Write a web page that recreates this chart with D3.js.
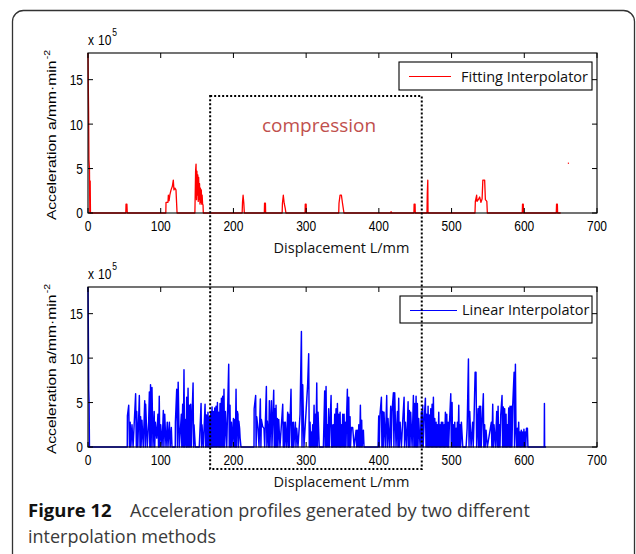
<!DOCTYPE html>
<html lang="en">
<head>
  <meta charset="utf-8">
  <title>Figure 12</title>
  <style>
    body { margin: 0; background: #fff; }
    svg { display: block; }
  </style>
</head>
<body>

  <div id="chart"></div>

<script src="https://cdn.jsdelivr.net/npm/d3@7"></script>
<script>

  ////////////////////////////////////////////////// DATA

  var xTicks = [0, 100, 200, 300, 400, 500, 600, 700];
  var yTicks = [0, 5, 10, 15];
  var xDomain = [0, 700];
  var yDomain = [0, 18];

  // fitting interpolator, [displacement mm, acceleration x1e5]
  var fittingPoints = [
    [0,18],[0.3,15],[0.8,11.5],[1.3,6],[2,5],[2.5,0],[3,3.6],[3.4,0],
    [52,0],[52.3,1.0],[53.5,1.0],[54,0],
    [107,0],[107.3,1.2],[110,1.2],[110.5,2.0],[111.5,1.4],[112.5,2.0],[114.2,2.6],[116,3.0],[117.3,3.7],[118.2,2.6],[119.5,2.8],[121,2.6],[122.5,0],
    [147,0],[148,4.8],[148.6,5.5],[149.2,1.5],[149.8,4.7],[150.4,2.0],[151,4.3],[151.6,1.3],[152.2,4.0],[152.8,1.5],[153.4,3.3],[154,1.0],[154.6,2.8],[155.2,1.2],[155.8,2.6],[156.4,1.0],[157,2.0],[157.6,1.0],[158.2,0.9],[158.6,0],
    [212,0],[212.5,1.2],[213.3,2.0],[214.3,1.1],[215,0],
    [242.5,0],[242.8,1.1],[244,1.1],[244.3,0],
    [267,0],[267.4,1.1],[268.6,2.0],[269.8,1.1],[271.3,0.5],[272.2,0],
    [298.5,0],[298.8,1.0],[300,1.0],[300.3,0],
    [344.8,0],[345.2,1.1],[346.6,2.0],[348.5,2.0],[350,1.1],[352,0],
    [416.3,0],[416.8,0.15],[417.3,0],
    [448.2,0],[448.5,1.0],[449.8,1.0],[450.1,0],
    [466.2,0],[466.6,2.2],[467.3,3.7],[467.6,0],
    [532.2,0],[532.7,1.3],[534.5,2.0],[535,1.3],[536.8,1.5],[538.6,1.8],[540.4,1.2],[542,1.6],[543,3.7],[545.5,3.7],[546.5,1.5],[548.5,1.3],[549.2,0],
    [597.2,0],[597.6,1.0],[598.6,1.0],[599,0],
    [644,0],[644.4,1.0],[645.5,1.0],[645.8,0],[650,0]
  ];
  var fittingStray = [[660.7, 5.6]];

  // linear interpolator, [displacement mm, acceleration x1e5]
  var linearPoints = [
    [0,18],[0.3,15],[1,6.4],[1.5,5],[2,0],[54,0],
    [54.2,3.5],[56,4.7],[57,0],[58,2.8],[59,0],[60.5,2.5],[62,0],
    [65.5,6.0],[66.5,0],[67,4.0],[68.5,0],[70.6,5.8],[71.5,0],[72.4,3.4],[73,0],[74.2,3.0],[76,0],
    [78,5.2],[78.8,0],[79.3,4.8],[81.5,0],[83.4,2.8],[84.4,6.2],[85,0],[86,7.0],[86.8,0],[88,6.7],[89.4,0],
    [91,4.0],[91.8,0],[92.6,2.8],[94.5,1.0],[96.2,3.7],[97,0],[98,5.7],[98.8,0],[100,2.5],[101.8,0],
    [103.6,4.1],[104.4,0],[105.5,3.7],[107.3,0],[109,2.8],[110,0],[111.9,2.8],[113,0],[114.6,2.2],[115.5,0],
    [120,0],[120.2,2.8],[122,6.5],[123,0],[124,7.3],[125.6,0],[128.4,3.7],[129,0],[130.2,4.8],[131,0],[132,8.7],[132.8,0],[134,3.1],[135,0],[135.7,5.6],[136.5,0],[137.6,6.6],[138.5,0],[139.4,4.7],[140.2,0],[141.2,4.8],[142,0],[143,3.2],[144.5,7.2],[145.2,0],[145.8,2.5],[147.6,0],
    [153,0],[155.5,4.9],[156.2,0],[156.8,2.5],[158.6,0],[161,4.8],[161.8,0],[163,3.6],[163.8,0],[165,3.9],[165.8,0],[167,3.4],[167.8,0],[168.8,4.0],[169.6,0],[170.6,4.5],[171.4,0],[172.4,4.0],[173.2,0],[174.3,4.4],[175,0],[176.1,4.6],[176.8,0],[178,5.0],[178.8,0],[179.8,3.9],[180.6,0],[181.6,4.9],[182.4,0],[183.5,5.5],[184.2,0],[185.3,5.7],[186,0],[187,6.5],[187.8,0],[189,4.0],[190.8,0],
    [193.5,9.3],[194.3,0],[195.3,4.7],[196,0],[197.2,2.8],[198,0],[200,3.2],[200.8,0],[201.8,3.1],[202.6,0],[203.6,6.5],[204.4,0],[205.4,4.0],[206.2,3.7],[207,0],[207.5,2.9],[208.5,2.1],[209.2,1.0],[210.4,0],
    [228.3,0],[228.5,4.3],[230.6,5.8],[231.2,0],[232,3.4],[233.8,2.1],[235.2,0],[237,5.4],[237.8,0],[238.4,3.1],[240.2,2.3],[242,2.1],[243,0],[245.3,6.8],[246,0],[246.7,2.9],[248.5,0],[249.4,5.2],[250.2,0],[252.2,5.2],[253,0],[254,2.8],[255.4,6.4],[256.2,0],[256.8,4.3],[257.6,0],[258.6,4.7],[259.4,0],[260.4,3.2],[261.2,0],[262.3,3.1],[264,0],
    [267.8,4.8],[268.6,0],[269.6,2.8],[270.4,0],[271.4,2.8],[273,0],[274.6,3.9],[275.4,0],[276,3.7],[276.8,0],[277.8,2.8],[279.2,6.5],[280,0],[280.6,2.8],[281.4,0],[282.4,2.8],[283,0],[285.2,2.8],[286,0],[287,2.1],[288.8,0],
    [291.6,3.7],[293.5,13.0],[294.3,0],[295.3,7.0],[297,0],[302,6.9],[303.5,10.5],[304.3,0],[305.4,2.8],[306.2,0],[307.2,1.7],[308,0],[309,2.5],[309.8,0],[310.9,4.7],[311.7,0],[312.7,3.7],[313.4,0],[314.6,7.2],[315.4,0],[316.4,3.9],[318,0],
    [323.7,0],[325.5,6.3],[326.2,0],[327.4,6.8],[328.2,0],[329.2,2.5],[330,0],[331,4.3],[331.8,0],[332.8,2.5],[334.3,5.8],[335,0],[335.6,2.5],[336.4,0],[337.5,2.5],[338.2,0],[339.3,3.7],[340,0],[341.1,4.3],[341.9,0],[343,4.9],[343.8,0],[344.8,3.7],[345.6,0],[346.7,3.9],[347.4,0],[348.5,2.5],[349.2,0],[350.3,3.7],[351,0],[352.2,3.7],[353,0],[354,2.8],[354.8,0],[355.8,3.9],[356.7,6.5],[357.4,0],[358.6,5.6],[359.4,0],[360.4,3.4],[361,0],[362.2,2.2],[364,2.2],[366,0],
    [368.7,1.9],[369.5,0],[370.5,1.9],[371.5,0],[372.4,2.5],[373.5,0],[374.6,4.7],[375.4,0],[376.4,3.0],[377,0],[378.7,1.9],[379.6,0],
    [398.9,0],[399.8,3.5],[400.6,0],[401.6,3.7],[403.5,5.6],[404.2,0],[405.3,4.0],[406,0],[407.1,3.9],[408.9,0],[410.8,5.8],[411.6,0],[412.6,3.2],[414.4,0],[416.3,4.6],[417,0],[418.1,4.0],[420,6.1],[420.7,0],[421.8,6.1],[423.6,0],[425.5,4.0],[426.2,0],[427.3,5.5],[428,0],[429.2,2.8],[431,0],[432.8,2.9],[434.7,5.6],[435.4,0],[436.5,2.8],[438.3,0],[440.2,5.1],[441,0],[442,4.1],[442.8,0],[443.8,3.9],[445.7,0],[447.5,5.8],[448.2,0],[449.3,4.9],[450,0],[451.2,5.7],[452,0],[453,4.9],[453.8,0],[454.8,3.2],[456.7,0],
    [458.5,4.0],[459.2,0],[460.3,4.7],[461,0],[462.2,2.8],[464,5.5],[464.8,0],[465.8,3.7],[466.6,0],[467.7,4.6],[468.4,0],[469.5,3.6],[470.2,0],[471.4,4.3],[472.2,0],[473.2,4.8],[474,0],[475,5.6],[475.8,0],[476.9,3.2],[477.6,0],[478.7,2.8],[479.4,0],[480.5,2.5],[481.2,0],[482.4,3.9],[483.2,0],[484.2,2.5],[485,0],[486,2.8],[486.8,0],[487.9,2.8],[488.6,0],[489.7,2.5],[490.4,0],[491.5,3.9],[492.2,0],[493.4,3.7],[494.2,0],[495.2,2.8],[496,0],[497,2.5],[498.9,6.0],[499.6,0],[500.7,5.0],[501.4,0],[502.6,2.5],[503.3,0],[504.4,2.8],[505.2,0],[506.2,2.1],[507,0],[508,2.8],[508.8,0],[509.9,4.7],[510.6,0],[511.7,2.5],[512.4,0],[513.5,2.8],[515.4,0],
    [520,0],[521.4,2.1],[523.2,9.9],[524,0],[525,4.0],[526.8,0],[529,2.8],[529.8,0],[530.8,2.8],[532.4,8.4],[533.6,8.4],[534.5,0],[536.4,4.3],[537.2,0],[538.2,4.6],[539,0],[540,4.6],[540.8,0],[541.9,2.5],[543.7,6.0],[544.4,0],[545.5,2.5],[546.2,0],[547.4,1.9],[549.2,0],
    [554.7,2.8],[555.4,0],[556.6,4.8],[557.4,0],[558.4,2.5],[560.3,0],[562.1,4.0],[562.8,0],[564,4.6],[564.8,0],[565.8,2.5],[566.6,0],[567.6,3.6],[569.4,5.8],[570.2,0],[571.2,4.5],[572,0],[573,4.3],[573.8,0],[574.9,3.7],[575.6,0],[576.7,2.5],[577.4,0],[578.6,4.4],[579.4,0],[580.4,4.6],[581.2,0],[582.3,4.6],[583,0],[584.1,4.7],[586,8.4],[586.6,0],[587.8,9.3],[588.6,1.9],[589.6,0],[590.4,2.1],[591.2,0],[592.3,2.8],[593,0],[594,1.7],[594.8,0],[595.9,1.9],[596.6,0],[597.7,1.7],[598.4,0],[599.5,2.0],[600.2,0],[601.3,1.7],[602,0],[603,2.1],[604.3,2.1],[605,0],
    [627.4,0],[627.7,4.9],[628,0],[630,0]
  ];

  var legendLabels = ["Fitting Interpolator", "Linear Interpolator"];
  var xLabel = "Displacement L/mm";
  var yLabel = "Acceleration a/mm\u00b7min";
  var yLabelSup = "-2";
  var exponentBase = ["x", "10"];
  var exponentPower = "5";
  var noteText = "compression";
  var compressRange = [168, 459];   // mm, dotted box
  var captionBold = "Figure 12";
  var captionLine1 = "Acceleration profiles generated by two different";
  var captionLine2 = "interpolation methods";

  ////////////////////////////////////////////////// LAYOUT

  var W = 636, H = 554;
  var plotLeft = 88, plotRight = 597;
  var vStretch = 1.25;     // the source figure is squeezed horizontally
  var tickFont = "'Liberation Sans', Arial, sans-serif";
  var textFont = "'Open Sans', 'Noto Sans', sans-serif";

  var panels = [
    { top: 53,  bottom: 213, data: fittingPoints, color: "#ff0000", width: 1.3, label: legendLabels[0],
      legend: { x0: 399, x1: 592, y0: 62,  y1: 90,  ly: 76.5, line0: 409, line1: 451, tx: 461 } },
    { top: 287, bottom: 447, data: linearPoints,  color: "#0000ff", width: 1.45, label: legendLabels[1],
      legend: { x0: 400, x1: 592, y0: 296, y1: 323, ly: 310.5, line0: 410, line1: 457, tx: 462 } }
  ];

  ////////////////////////////////////////////////// SETUP

  var svg = d3.select("#chart").append("svg")
    .attr("width", W)
    .attr("height", H);

  // rounded figure frame
  svg.append("rect")
    .attr("x", 12.5).attr("y", 10.5)
    .attr("width", 622).attr("height", 560)
    .attr("rx", 11)
    .attr("fill", "none")
    .attr("stroke", "#333")
    .attr("stroke-width", 1.3);

  var x = d3.scaleLinear().domain(xDomain).range([plotLeft, plotRight]);

  function stretchedText(parent, px, py, str) {
    return parent.append("text")
      .attr("transform", "translate(" + px + "," + py + ") scale(1," + vStretch + ")")
      .attr("font-family", tickFont)
      .attr("font-size", 12)
      .attr("fill", "#000")
      .text(str);
  }

  panels.forEach(function(p, i) {
    var y = d3.scaleLinear().domain(yDomain).range([p.bottom, p.top]);
    var g = svg.append("g");

    // data line
    var line = d3.line()
      .x(function(d) { return x(d[0]); })
      .y(function(d) { return y(d[1]); });

    g.append("path")
      .datum(p.data)
      .attr("d", line)
      .attr("fill", "none")
      .attr("stroke", p.color)
      .attr("stroke-width", p.width)
      .attr("stroke-linejoin", "round");

    if (i === 0) {
      g.selectAll(".stray").data(fittingStray).enter().append("rect")
        .attr("x", function(d) { return x(d[0]) - 0.6; })
        .attr("y", function(d) { return y(d[1]) - 0.6; })
        .attr("width", 1.2).attr("height", 1.2)
        .attr("fill", p.color);
    }

    // box
    g.append("rect")
      .attr("x", plotLeft).attr("y", p.top)
      .attr("width", plotRight - plotLeft).attr("height", p.bottom - p.top)
      .attr("fill", "none").attr("stroke", "#000").attr("stroke-width", 1.1);

    // inward ticks on all four sides
    xTicks.forEach(function(t) {
      g.append("line").attr("x1", x(t)).attr("x2", x(t))
        .attr("y1", p.bottom).attr("y2", p.bottom - 5).attr("stroke", "#000");
      g.append("line").attr("x1", x(t)).attr("x2", x(t))
        .attr("y1", p.top).attr("y2", p.top + 5).attr("stroke", "#000");
      stretchedText(g, x(t), p.bottom + 18, t).attr("text-anchor", "middle");
    });
    yTicks.forEach(function(t) {
      g.append("line").attr("x1", plotLeft).attr("x2", plotLeft + 5)
        .attr("y1", y(t)).attr("y2", y(t)).attr("stroke", "#000");
      g.append("line").attr("x1", plotRight).attr("x2", plotRight - 5)
        .attr("y1", y(t)).attr("y2", y(t)).attr("stroke", "#000");
      stretchedText(g, plotLeft - 5, y(t) + 5.4, t).attr("text-anchor", "end");
    });

    // x 10^5
    var ex = stretchedText(g, plotLeft, p.top - 8, "");
    ex.append("tspan").text(exponentBase[0]);
    ex.append("tspan").attr("dx", 4).text(exponentBase[1]);
    ex.append("tspan").attr("font-size", 8.5).attr("dy", -7).attr("dx", 1).text(exponentPower);

    // axis labels
    svg.append("text")
      .attr("x", (plotLeft + plotRight) / 2 - 1)
      .attr("y", p.bottom + 39.5)
      .attr("text-anchor", "middle")
      .attr("font-family", textFont)
      .attr("font-size", 14.5)
      .attr("fill", "#111")
      .text(xLabel);

    var yl = svg.append("text")
      .attr("transform", "translate(56," + ((p.top + p.bottom) / 2 + 2) + ") scale(1," + vStretch + ") rotate(-90)")
      .attr("text-anchor", "middle")
      .attr("font-family", tickFont)
      .attr("font-size", 12.5)
      .attr("fill", "#000");
    yl.append("tspan").text(yLabel);
    yl.append("tspan").attr("font-size", 8.5).attr("dy", -6).attr("dx", 1).text(yLabelSup);

    // legend
    var L = p.legend;
    g.append("rect")
      .attr("x", L.x0).attr("y", L.y0)
      .attr("width", L.x1 - L.x0).attr("height", L.y1 - L.y0)
      .attr("fill", "#fff").attr("stroke", "#000").attr("stroke-width", 1.1);
    g.append("line")
      .attr("x1", L.line0).attr("x2", L.line1)
      .attr("y1", L.ly).attr("y2", L.ly)
      .attr("stroke", p.color).attr("stroke-width", 1);
    g.append("text")
      .attr("x", L.tx).attr("y", (L.y0 + L.y1) / 2 + 5.5)
      .attr("font-family", textFont)
      .attr("font-size", 14.5)
      .attr("fill", "#111")
      .text(p.label);
  });

  ////////////////////////////////////////////////// ANNOTATION

  svg.append("text")
    .attr("x", 262).attr("y", 132)
    .attr("font-family", textFont)
    .attr("font-size", 19)
    .attr("fill", "#c0504d")
    .text(noteText);

  svg.append("rect")
    .attr("x", x(compressRange[0])).attr("y", 96)
    .attr("width", x(compressRange[1]) - x(compressRange[0]))
    .attr("height", 469 - 96)
    .attr("fill", "none")
    .attr("stroke", "#000")
    .attr("stroke-width", 2)
    .attr("stroke-dasharray", "2,2");

  ////////////////////////////////////////////////// CAPTION

  svg.append("text")
    .attr("x", 28).attr("y", 517)
    .attr("font-family", textFont)
    .attr("font-weight", "bold")
    .attr("font-size", 18.5)
    .attr("fill", "#111")
    .text(captionBold);

  svg.append("text")
    .attr("x", 130).attr("y", 517)
    .attr("font-family", textFont)
    .attr("font-size", 18)
    .attr("fill", "#3a3a3a")
    .text(captionLine1);

  svg.append("text")
    .attr("x", 28).attr("y", 543)
    .attr("font-family", textFont)
    .attr("font-size", 18)
    .attr("fill", "#3a3a3a")
    .text(captionLine2);

</script>
</body>
</html>
